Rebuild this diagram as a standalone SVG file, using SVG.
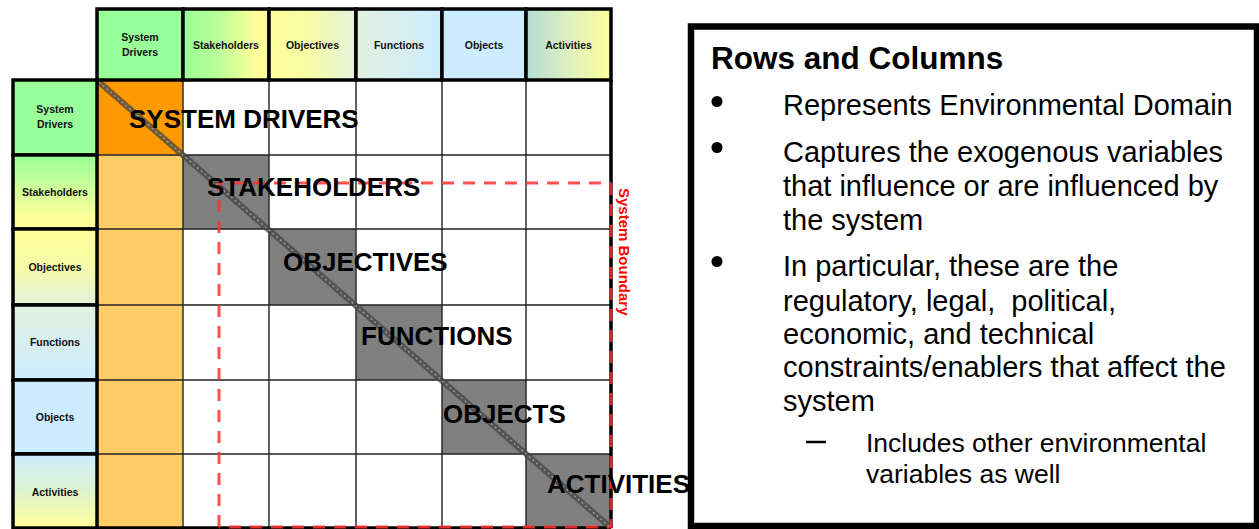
<svg xmlns="http://www.w3.org/2000/svg" width="1259" height="529" viewBox="0 0 1259 529">
<defs>
<style>
text{font-family:"Liberation Sans",Arial,sans-serif}
.hl{font-size:10.5px;font-weight:bold;fill:#111;text-anchor:middle}
.big{font-size:26px;font-weight:bold;fill:#000}
.hb{stroke:#000;stroke-width:3.5}
.grid{stroke:#222;stroke-width:1.4;fill:none}
.bnd{stroke:#ff3030;stroke-width:3;stroke-dasharray:12 9;fill:none;opacity:0.85}
.body{font-size:29px;fill:#000}
.sub{font-size:26.5px;fill:#000}
</style>
<linearGradient id="gH2" x1="0" y1="0" x2="1" y2="0"><stop offset="0" stop-color="#99ff99"/><stop offset="0.4" stop-color="#b8ff99"/><stop offset="0.85" stop-color="#ffff99"/></linearGradient>
<linearGradient id="gH3" x1="0" y1="0" x2="1" y2="0"><stop offset="0" stop-color="#ffff99"/><stop offset="0.5" stop-color="#f6fba8"/><stop offset="1" stop-color="#e4f2dc"/></linearGradient>
<linearGradient id="gH4" x1="0" y1="0" x2="1" y2="0"><stop offset="0" stop-color="#e2f1df"/><stop offset="1" stop-color="#ccecff"/></linearGradient>
<linearGradient id="gH6" x1="0" y1="0" x2="1" y2="0"><stop offset="0" stop-color="#b6dcd6"/><stop offset="0.5" stop-color="#dcf0c0"/><stop offset="1" stop-color="#ffff99"/></linearGradient>
<linearGradient id="gV2" x1="0" y1="0" x2="0" y2="1"><stop offset="0" stop-color="#99ff99"/><stop offset="0.4" stop-color="#c8ff99"/><stop offset="0.85" stop-color="#ffff99"/></linearGradient>
<linearGradient id="gV3" x1="0" y1="0" x2="0" y2="1"><stop offset="0" stop-color="#ffff99"/><stop offset="0.5" stop-color="#f6fba8"/><stop offset="1" stop-color="#e4f2dc"/></linearGradient>
<linearGradient id="gV4" x1="0" y1="0" x2="0" y2="1"><stop offset="0" stop-color="#e2f1df"/><stop offset="1" stop-color="#ccecff"/></linearGradient>
<linearGradient id="gV6" x1="0" y1="0" x2="0" y2="1"><stop offset="0" stop-color="#ccecff"/><stop offset="0.5" stop-color="#def4d0"/><stop offset="1" stop-color="#ffff99"/></linearGradient>
</defs>
<rect width="1259" height="529" fill="#fff"/>

<g id="matrix-cells">
<rect x="97" y="80" width="86" height="75" fill="#ff9900"/>
<rect x="97" y="155" width="86" height="373" fill="#ffcc66"/>
<rect x="183" y="155" width="86" height="74" fill="#808080"/>
<rect x="269" y="229" width="87" height="76" fill="#808080"/>
<rect x="356" y="305" width="86" height="75" fill="#808080"/>
<rect x="442" y="380" width="84" height="74" fill="#808080"/>
<rect x="526" y="454" width="85" height="74" fill="#808080"/>
<path class="grid" d="M183 80V528M269 80V528M356 80V528M442 80V528M526 80V528M97 155H611M97 229H611M97 305H611M97 380H611M97 454H611"/>
<path d="M611 80V528M97 528H611" stroke="#000" stroke-width="3.5" fill="none"/>
</g>

<g id="connectors">
<line x1="99" y1="82" x2="610" y2="527" stroke="#444" stroke-width="6" opacity="0.75"/>
<line x1="99" y1="82" x2="610" y2="527" stroke="#aaa" stroke-width="1.5" stroke-dasharray="2 3" opacity="0.8"/>
</g>

<g id="system-boundary">
<path class="bnd" d="M219 527V183H611M611 183V527H219"/>
<text transform="translate(619,188) rotate(90)" font-size="15" font-weight="bold" fill="#ff0000">System Boundary</text>
</g>

<g id="col-system-drivers"><rect class="hb" x="97" y="9" width="86" height="71" fill="#99ff99"/><text class="hl" x="140" y="41">System</text><text class="hl" x="140" y="56">Drivers</text></g>
<g id="col-stakeholders"><rect class="hb" x="183" y="9" width="86" height="71" fill="url(#gH2)"/><text class="hl" x="226" y="49">Stakeholders</text></g>
<g id="col-objectives"><rect class="hb" x="269" y="9" width="87" height="71" fill="url(#gH3)"/><text class="hl" x="312.5" y="49">Objectives</text></g>
<g id="col-functions"><rect class="hb" x="356" y="9" width="86" height="71" fill="url(#gH4)"/><text class="hl" x="399" y="49">Functions</text></g>
<g id="col-objects"><rect class="hb" x="442" y="9" width="84" height="71" fill="#ccecff"/><text class="hl" x="484" y="49" fill="#333">Objects</text></g>
<g id="col-activities"><rect class="hb" x="526" y="9" width="85" height="71" fill="url(#gH6)"/><text class="hl" x="568.5" y="49">Activities</text></g>

<g id="row-system-drivers"><rect class="hb" x="13" y="80" width="84" height="75" fill="#99ff99"/><text class="hl" x="55" y="113">System</text><text class="hl" x="55" y="128">Drivers</text></g>
<g id="row-stakeholders"><rect class="hb" x="13" y="155" width="84" height="74" fill="url(#gV2)"/><text class="hl" x="55" y="196">Stakeholders</text></g>
<g id="row-objectives"><rect class="hb" x="13" y="229" width="84" height="76" fill="url(#gV3)"/><text class="hl" x="55" y="271">Objectives</text></g>
<g id="row-functions"><rect class="hb" x="13" y="305" width="84" height="75" fill="url(#gV4)"/><text class="hl" x="55" y="346">Functions</text></g>
<g id="row-objects"><rect class="hb" x="13" y="380" width="84" height="74" fill="#ccecff"/><text class="hl" x="55" y="421">Objects</text></g>
<g id="row-activities"><rect class="hb" x="13" y="454" width="84" height="74" fill="url(#gV6)"/><text class="hl" x="55" y="496">Activities</text></g>

<g id="diag-labels">
<text class="big" x="129" y="128">SYSTEM DRIVERS</text>
<text class="big" x="207" y="196">STAKEHOLDERS</text>
<text class="big" x="283" y="271">OBJECTIVES</text>
<text class="big" x="361" y="345">FUNCTIONS</text>
<text class="big" x="443" y="423">OBJECTS</text>
<text class="big" x="547" y="493">ACTIVITIES</text>
</g>

<g id="notes">
<rect x="691" y="26.5" width="566" height="499.5" fill="#fff" stroke="#000" stroke-width="6.5"/>
<text x="711" y="69" font-size="31.5" font-weight="bold">Rows and Columns</text>
<circle cx="717" cy="101.5" r="5.5"/>
<circle cx="717" cy="147.5" r="5.5"/>
<circle cx="717" cy="261.5" r="5.5"/>
<text class="body" x="783" y="115">Represents Environmental Domain</text>
<text class="body" x="783" y="162">Captures the exogenous variables</text>
<text class="body" x="783" y="196">that influence or are influenced by</text>
<text class="body" x="783" y="230">the system</text>
<text class="body" x="783" y="276">In particular, these are the</text>
<text class="body" x="783" y="311" xml:space="preserve">regulatory, legal,  political,</text>
<text class="body" x="783" y="344">economic, and technical</text>
<text class="body" x="783" y="377">constraints/enablers that affect the</text>
<text class="body" x="783" y="411">system</text>
<line x1="806" y1="442" x2="826" y2="442" stroke="#000" stroke-width="2.5"/>
<text class="sub" x="866" y="452">Includes other environmental</text>
<text class="sub" x="866" y="483">variables as well</text>
</g>
</svg>
